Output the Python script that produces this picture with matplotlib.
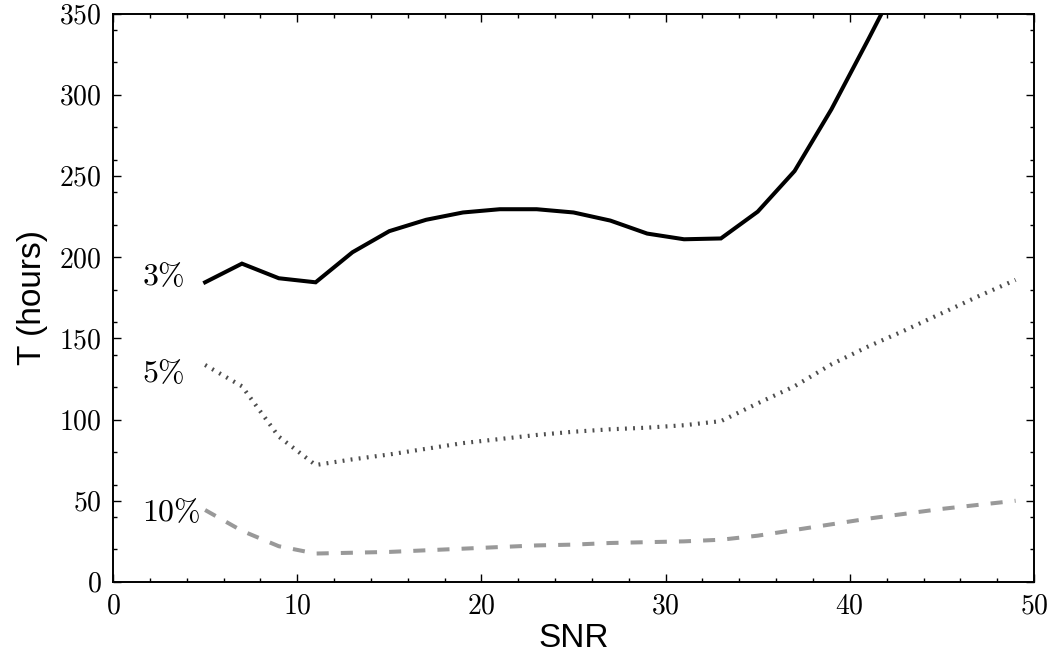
import numpy as np
import matplotlib
matplotlib.use('Agg')
import matplotlib.pyplot as plt
from matplotlib.ticker import MultipleLocator, FuncFormatter

plt.rcParams['mathtext.fontset'] = 'cm'
plt.rcParams['font.family'] = ['Liberation Sans', 'DejaVu Sans']

# data
snr = np.arange(5, 50, 2)
t_3pct = [184.5, 196, 187, 184.5, 203, 216, 223, 227.5, 229.5, 229.5,
          227.5, 222.5, 214.5, 211, 211.5, 228, 253, 291, 334, 378]
t_5pct = [133.6, 120.5, 89.5, 72, 75.5, 78.5, 82, 85.5, 88, 90.5, 92.5,
          94, 95, 96.5, 99, 110, 120.5, 134, 145, 155, 165.5, 176, 186]
t_10pct = [44.3, 31.5, 22, 17.5, 18, 18.5, 19.5, 20.5, 21.5, 22.5, 23,
           24, 24.5, 25, 26, 28.5, 32, 35.5, 39, 42, 45, 47.5, 50]

labels = ['3\\%', '5\\%', '10\\%']
label_x = 1.6
label_y = [188, 128, 42.7]

fig = plt.figure(figsize=(10.6, 6.59), dpi=100)
ax = fig.add_axes([0.1066, 0.1169, 0.8689, 0.8626])

ax.plot(snr[:len(t_3pct)], t_3pct, color='black', lw=2.9, solid_joinstyle='miter')
ax.plot(snr, t_5pct, color='#4d4d4d', lw=3.0, linestyle=(0, (0.45, 1.5)))
ax.plot(snr, t_10pct, color='#999999', lw=2.9, linestyle=(0, (3.0, 3.0)))

for txt, y in zip(labels, label_y):
    ax.text(label_x, y, '$' + txt + '$', fontsize=23, ha='left', va='center')

ax.set_xlim(0, 50)
ax.set_ylim(0, 350)
ax.xaxis.set_major_locator(MultipleLocator(10))
ax.xaxis.set_minor_locator(MultipleLocator(2))
ax.yaxis.set_major_locator(MultipleLocator(50))
ax.yaxis.set_minor_locator(MultipleLocator(20))
fmt = FuncFormatter(lambda v, p: '$%d$' % v)
ax.xaxis.set_major_formatter(fmt)
ax.yaxis.set_major_formatter(fmt)

ax.tick_params(which='both', direction='in', top=True, right=True, width=1)
ax.tick_params(which='major', length=5.5, labelsize=20)
ax.tick_params(which='minor', length=3)
ax.tick_params(axis='x', which='major', pad=8)
ax.tick_params(axis='y', which='major', pad=8)
for s in ax.spines.values():
    s.set_linewidth(1.4)

ax.set_xlabel('SNR', fontsize=24, labelpad=3)
ax.set_ylabel('T (hours)', fontsize=24, labelpad=8)

fig.savefig('out.png', dpi=100)
